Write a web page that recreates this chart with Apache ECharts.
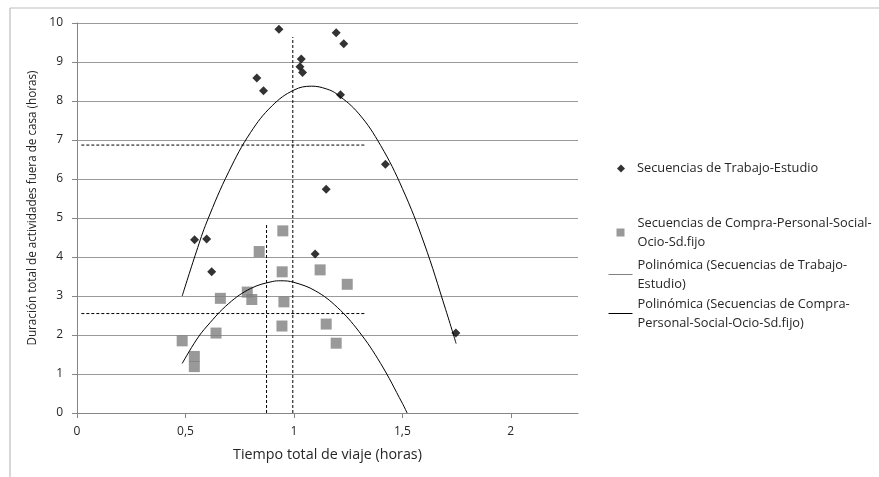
<!DOCTYPE html>
<html>
<head>
<meta charset="utf-8">
<script src="https://cdn.jsdelivr.net/npm/echarts@6/dist/echarts.min.js"></script>
<style>
  html, body { margin: 0; padding: 0; background: #fff; }
  #chart { width: 879px; height: 477px; }
</style>
</head>
<body>
<div id="chart"></div>
<script>
// Secuencias de Trabajo-Estudio (x: horas de viaje, y: horas fuera de casa)
const trabajoX = [0.931, 1.195, 1.230, 1.034, 1.028, 1.040, 0.829, 0.860, 1.215, 1.422, 1.149, 0.542, 0.598, 0.621, 1.098, 1.747];
const trabajoY = [9.84, 9.75, 9.47, 9.08, 8.88, 8.73, 8.59, 8.26, 8.16, 6.38, 5.74, 4.44, 4.46, 3.62, 4.08, 2.05];

// Secuencias de Compra-Personal-Social-Ocio-Sd.fijo
const compraX = [0.949, 0.840, 0.946, 1.121, 1.246, 0.785, 0.806, 0.661, 0.954, 0.945, 1.149, 0.641, 0.485, 1.195, 0.541, 0.541];
const compraY = [4.67, 4.14, 3.62, 3.67, 3.30, 3.10, 2.91, 2.94, 2.85, 2.23, 2.28, 2.05, 1.85, 1.79, 1.45, 1.19];

// trend curves
const trendTrabajoX = [0.485, 0.55, 0.6, 0.7, 0.8, 0.9, 1.0, 1.082, 1.15, 1.2, 1.3, 1.4, 1.5, 1.6, 1.7, 1.748];
const trendTrabajoY = [3.0, 4.13, 4.92, 6.19, 7.19, 7.88, 8.28, 8.38, 8.31, 8.17, 7.67, 6.86, 5.76, 4.36, 2.65, 1.78];
const trendCompraX = [0.485, 0.55, 0.6, 0.7, 0.8, 0.9, 0.94, 1.0, 1.1, 1.2, 1.3, 1.4, 1.5, 1.522];
const trendCompraY = [1.27, 1.87, 2.23, 2.81, 3.19, 3.37, 3.39, 3.35, 3.13, 2.71, 2.09, 1.27, 0.25, 0.0];

// dashed mean lines
const meanTrabajoH = [[0.02, 6.87], [1.33, 6.87]];
const meanTrabajoV = [[0.995, 0], [0.995, 9.64]];
const meanCompraH = [[0.02, 2.55], [1.33, 2.55]];
const meanCompraV = [[0.874, 0], [0.874, 4.87]];

const xTicks = [0, 0.5, 1, 1.5, 2];
const seriesNames = [
  'Secuencias de Trabajo-Estudio',
  'Secuencias de Compra-Personal-Social-Ocio-Sd.fijo',
  'Polinómica (Secuencias de Trabajo-Estudio)',
  'Polinómica (Secuencias de Compra-Personal-Social-Ocio-Sd.fijo)'
];
const legendLabels = [
  'Secuencias de Trabajo-Estudio',
  'Secuencias de Compra-Personal-Social-\nOcio-Sd.fijo',
  'Polinómica (Secuencias de Trabajo-\nEstudio)',
  'Polinómica (Secuencias de Compra-\nPersonal-Social-Ocio-Sd.fijo)'
];
const legendColors = ['#000', '#808080', '#808080', '#000'];

const FONT = 'Open Sans';
const TEXT = '#262626';

const zip = (xs, ys) => xs.map((x, i) => [x, ys[i]]);

const dashed = (data) => ({
  type: 'line',
  data: data,
  symbol: 'none',
  silent: true,
  z: 5,
  lineStyle: { color: '#000', width: 1, type: [3, 2] }
});

// one legend block per entry, so the spacing can follow the original
const legendBlock = (i, top, left, w, h, padLeft) => {
  const isLine = i >= 2;
  return {
    data: [seriesNames[i]],
    top: top,
    left: left,
    padding: 0,
    itemWidth: w,
    itemHeight: h,
    selectedMode: false,
    formatter: () => legendLabels[i],
    // line entries: keep the stroke, hide the dot
    itemStyle: isLine ? { color: 'rgba(0,0,0,0)', borderWidth: 0 } : { color: legendColors[i] },
    lineStyle: isLine ? { color: legendColors[i], width: 1, opacity: 1 } : undefined,
    textStyle: {
      fontFamily: FONT,
      fontSize: 12.8,
      color: TEXT,
      lineHeight: 19,
      padding: [i === 0 ? 0 : 19, 0, 0, padLeft]
    }
  };
};

const chart = echarts.init(document.getElementById('chart'));

chart.setOption({
  backgroundColor: '#fff',
  animation: false,
  textStyle: { fontFamily: FONT },
  grid: { left: 77, right: 301, top: 23, bottom: 64 },
  graphic: [
    { type: 'line', shape: { x1: 10, y1: 8, x2: 879, y2: 8 }, style: { stroke: '#bdbdbd', lineWidth: 1.2 } },
    { type: 'line', shape: { x1: 10, y1: 8, x2: 10, y2: 477 }, style: { stroke: '#bdbdbd', lineWidth: 1.2 } }
  ],
  legend: [
    legendBlock(0, 159, 617, 8, 8, 7),
    legendBlock(1, 204, 616.5, 8, 8, 8),
    legendBlock(2, 246, 608, 24, 14, 0),
    legendBlock(3, 285, 608, 24, 14, 0)
  ],
  xAxis: {
    type: 'value',
    min: 0,
    max: 2.31,
    interval: 0.5,
    name: 'Tiempo total de viaje (horas)',
    nameLocation: 'middle',
    nameGap: 35,
    nameTextStyle: { fontFamily: FONT, fontSize: 14.3, color: TEXT },
    axisLine: { lineStyle: { color: '#868686' } },
    axisTick: { show: true, length: 5, customValues: xTicks, lineStyle: { color: '#868686' } },
    axisLabel: {
      customValues: xTicks,
      margin: 13,
      fontFamily: FONT,
      fontSize: 12,
      color: TEXT,
      formatter: (v) => String(v).replace('.', ',')
    },
    splitLine: { show: false }
  },
  yAxis: {
    type: 'value',
    min: 0,
    max: 10,
    interval: 1,
    name: 'Duración total de actividades fuera de casa (horas)',
    nameLocation: 'middle',
    nameGap: 32,
    nameTextStyle: { fontFamily: FONT, fontSize: 11.7, color: TEXT, padding: [0, 0, 0, 20] },
    axisLine: { show: true, lineStyle: { color: '#868686' } },
    axisTick: { show: true, length: 5, lineStyle: { color: '#868686' } },
    axisLabel: { margin: 14, fontFamily: FONT, fontSize: 12, color: TEXT },
    splitLine: { lineStyle: { color: '#9a9a9a' } }
  },
  series: [
    {
      name: seriesNames[0],
      type: 'scatter',
      symbol: 'diamond',
      symbolSize: 9,
      data: zip(trabajoX, trabajoY),
      itemStyle: { color: '#000' },
      z: 2
    },
    {
      name: seriesNames[1],
      type: 'scatter',
      symbol: 'rect',
      symbolSize: 11,
      data: zip(compraX, compraY),
      itemStyle: { color: '#808080' },
      z: 3
    },
    {
      name: seriesNames[2],
      type: 'line',
      smooth: 0.4,
      symbol: 'none',
      showSymbol: false,
      data: zip(trendTrabajoX, trendTrabajoY),
      itemStyle: { color: '#000' },
      lineStyle: { color: '#000', width: 1 },
      z: 4
    },
    {
      name: seriesNames[3],
      type: 'line',
      smooth: 0.4,
      symbol: 'none',
      showSymbol: false,
      data: zip(trendCompraX, trendCompraY),
      itemStyle: { color: '#000' },
      lineStyle: { color: '#000', width: 1 },
      z: 4
    },
    dashed(meanTrabajoH),
    dashed(meanTrabajoV),
    dashed(meanCompraH),
    dashed(meanCompraV)
  ]
});
</script>
</body>
</html>
